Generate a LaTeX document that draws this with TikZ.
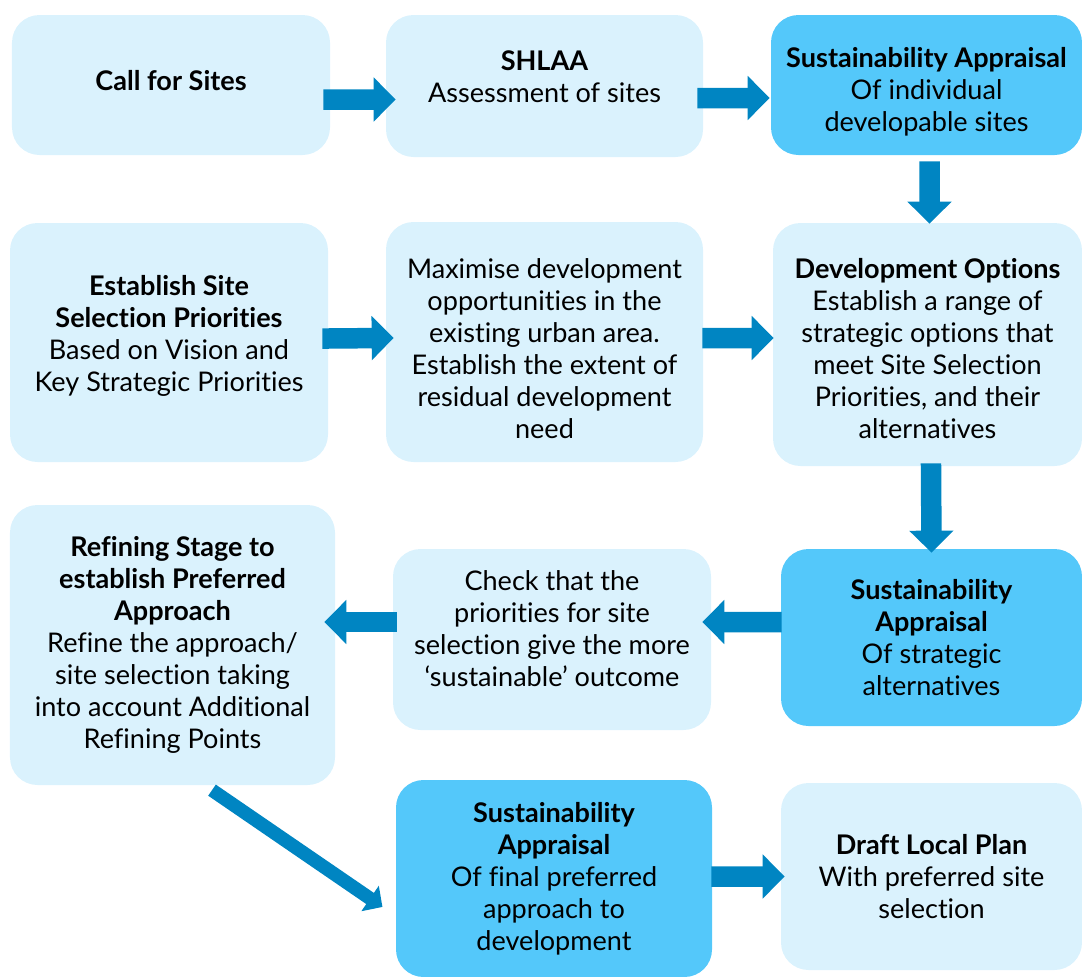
\documentclass[tikz,border=0pt]{standalone}
\usepackage{fontspec}
\setmainfont{Lato}[Ligatures=NoCommon]
\usepackage{tikz}
\usetikzlibrary{arrows.meta}
\definecolor{paleblue}{RGB}{218,242,253}
\definecolor{skyblue}{RGB}{84,200,250}
\definecolor{arrowblue}{RGB}{0,133,194}

\begin{document}
\begin{tikzpicture}[every node/.style={font=\fontsize{15.4}{18.2}\selectfont,align=center,inner sep=1pt},box/.style 2 args={fill=paleblue,rounded corners=5.5mm,minimum width=#1cm,minimum height=#2cm},sabox/.style 2 args={box={#1}{#2},fill=skyblue},arrow/.style={-{Triangle[width=8.6mm,length=4.4mm]},line width=4.1mm,arrowblue},thinarrow/.style={-{Triangle[width=6mm,length=3mm]},line width=2.7mm,arrowblue}]
\useasboundingbox (0,0) rectangle (21.64,-19.54);
\node[box={6.36}{2.80}] (call) at (3.42,-1.70) {\raisebox{2mm}{\textbf{Call for Sites}}};
\node[box={6.34}{2.84}] (shlaa) at (10.89,-1.72) {\textbf{SHLAA}\\Assessment of sites\\[-7.4pt]};
\node[sabox={6.22}{2.80}] (sa1) at (18.53,-1.70) {\textbf{Sustainability Appraisal}\\Of individual\\developable sites\\[-23.4pt]};
\node[box={6.36}{4.78}] (prio) at (3.38,-6.85) {\textbf{Establish Site}\\\textbf{Selection Priorities}\\Based on Vision and\\Key Strategic Priorities\\[-8pt]};
\node[box={6.34}{4.80}] (maxi) at (10.89,-6.84) {Maximise development\\opportunities in the\\existing urban area.\\Establish the extent of\\residual development\\need\\[-25.6pt]};
\node[box={6.18}{4.86}] (dev) at (18.55,-6.89) {\textbf{Development Options}\\Establish a range of\\strategic options that\\meet Site Selection\\Priorities, and their\\alternatives\\[-22.8pt]};
\node[box={6.50}{5.60}] (refine) at (3.45,-12.90) {\textbf{Refining Stage to}\\\textbf{establish Preferred}\\\textbf{Approach}\\Refine the approach/\\site selection taking\\into account Additional\\Refining Points};
\node[box={6.36}{3.62}] (check) at (11.04,-12.79) {Check that the\\priorities for site\\selection give the more\\‘sustainable’ outcome\\[-6.2pt]};
\node[sabox={6.02}{3.54}] (sa2) at (18.63,-12.75) {\textbf{Sustainability}\\\textbf{Appraisal}\\Of strategic\\alternatives};
\node[sabox={6.32}{3.94}] (sa3) at (11.08,-17.57) {\textbf{Sustainability}\\\textbf{Appraisal}\\Of final preferred\\approach to\\development};
\node[box={6.02}{3.74}] (draft) at (18.63,-17.53) {\textbf{Draft Local Plan}\\With preferred site\\selection};
\draw[arrow,shorten <=-1.4mm,shorten >=-2mm] ([yshift=-2.9mm]call.east)--([yshift=-2.7mm]shlaa.west);
\draw[arrow,shorten <=-1.2mm,shorten >=0.2mm] ([yshift=-2.4mm]shlaa.east)--([yshift=-2.6mm]sa1.west);
\draw[arrow,shorten <=1.2mm,shorten >=-0.2mm] ([xshift=0.6mm]sa1.south)--([xshift=0.4mm]dev.north);
\draw[arrow,shorten <=-1.2mm,shorten >=-1.6mm] ([yshift=0.8mm]prio.east)--([yshift=0.8mm]maxi.west);
\draw[arrow,shorten <=-0.2mm,shorten >=-0.2mm] ([yshift=0.8mm]maxi.east)--([yshift=1.3mm]dev.west);
\draw[arrow,shorten <=-0.6mm,shorten >=-0.8mm] ([xshift=0.7mm]dev.south)--(sa2.north);
\draw[arrow,shorten <=-0.2mm,shorten >=-1.8mm] ([yshift=3.1mm]sa2.west)--([yshift=3.5mm]check.east);
\draw[arrow,shorten <=-0.8mm,shorten >=-2.2mm] ([yshift=3.5mm]check.west)--([yshift=4.6mm]refine.east);
\draw[thinarrow,shorten <=1.7mm,shorten >=3.2mm] ([xshift=6.5mm]refine.south)--([yshift=-7.5mm]sa3.west);
\draw[arrow,shorten <=-0.2mm,shorten >=-0.8mm] ([yshift=0.4mm]sa3.east)--(draft.west);
\end{tikzpicture}
\end{document}
